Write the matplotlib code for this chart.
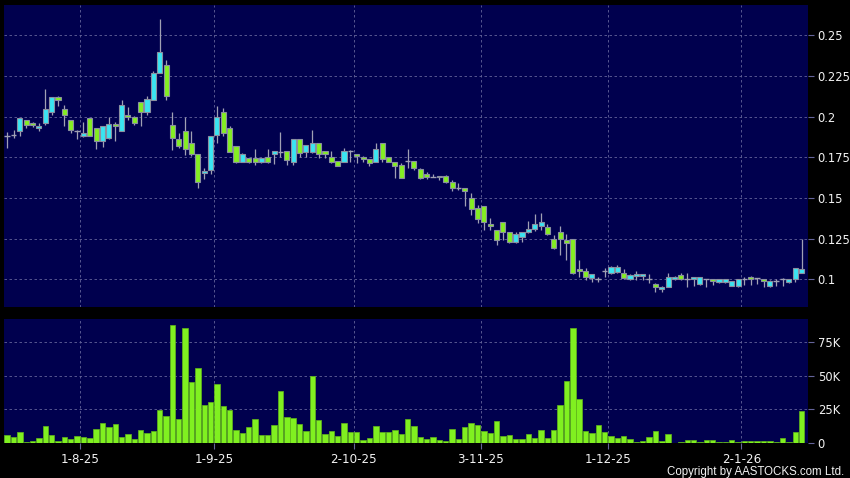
import matplotlib
matplotlib.use("Agg")
import matplotlib.pyplot as plt
import numpy as np

# daily OHLC, 16-7-25 .. 15-1-26 (one trading day per entry)
opens = [0.1884, 0.1888, 0.1910, 0.1978, 0.1960, 0.1931, 0.1961, 0.2029, 0.2120, 0.2047,
         0.1982, 0.1914, 0.1884, 0.1992, 0.1930, 0.1849, 0.1869, 0.1957, 0.1914, 0.2012,
         0.1998, 0.2088, 0.2029, 0.2104, 0.2267, 0.2316, 0.1951, 0.1863, 0.1914, 0.1835,
         0.1773, 0.1651, 0.1672, 0.1890, 0.2031, 0.1931, 0.1817, 0.1723, 0.1748, 0.1748,
         0.1723, 0.1754, 0.1769, 0.1785, 0.1790, 0.1719, 0.1863, 0.1781, 0.1781, 0.1837,
         0.1790, 0.1750, 0.1727, 0.1723, 0.1788, 0.1771, 0.1750, 0.1737, 0.1723, 0.1837,
         0.1754, 0.1719, 0.1700, 0.1728, 0.1728, 0.1677, 0.1648, 0.1632, 0.1628, 0.1638,
         0.1597, 0.1564, 0.1564, 0.1499, 0.1438, 0.1448, 0.1340, 0.1305, 0.1352, 0.1291,
         0.1230, 0.1260, 0.1291, 0.1309, 0.1326, 0.1322, 0.1250, 0.1292, 0.1241, 0.1246,
         0.1062, 0.1052, 0.1006, 0.1002, 0.1052, 0.1037, 0.1048, 0.1037, 0.1000, 0.1019,
         0.1019, 0.1002, 0.0969, 0.0938, 0.0954, 0.1000, 0.1029, 0.1002, 0.1000, 0.0969,
         0.1002, 0.1000, 0.0981, 0.0981, 0.0958, 0.0958, 0.1002, 0.1017, 0.1006, 0.1000,
         0.0958, 0.0988, 0.1000, 0.0981, 0.1000, 0.1037]
highs = [0.1904, 0.1920, 0.1992, 0.1978, 0.1966, 0.1961, 0.2171, 0.2120, 0.2124, 0.2070,
         0.1982, 0.1920, 0.1967, 0.1992, 0.1930, 0.1940, 0.2000, 0.1965, 0.2104, 0.2059,
         0.2002, 0.2088, 0.2124, 0.2282, 0.2600, 0.2349, 0.2029, 0.1900, 0.2000, 0.1914,
         0.1773, 0.1686, 0.1884, 0.2063, 0.2050, 0.1942, 0.1817, 0.1775, 0.1748, 0.1802,
         0.1748, 0.1802, 0.1790, 0.1904, 0.1790, 0.1863, 0.1863, 0.1823, 0.1915, 0.1837,
         0.1790, 0.1790, 0.1727, 0.1806, 0.1796, 0.1771, 0.1760, 0.1737, 0.1838, 0.1837,
         0.1754, 0.1723, 0.1713, 0.1801, 0.1728, 0.1687, 0.1658, 0.1648, 0.1638, 0.1642,
         0.1611, 0.1590, 0.1564, 0.1530, 0.1458, 0.1452, 0.1380, 0.1305, 0.1352, 0.1291,
         0.1291, 0.1291, 0.1360, 0.1401, 0.1407, 0.1340, 0.1275, 0.1326, 0.1277, 0.1246,
         0.1121, 0.1069, 0.1033, 0.1017, 0.1069, 0.1083, 0.1090, 0.1065, 0.1033, 0.1052,
         0.1033, 0.1033, 0.0975, 0.0958, 0.1037, 0.1021, 0.1037, 0.1037, 0.1017, 0.1017,
         0.1002, 0.1000, 0.1000, 0.1000, 0.0990, 0.1000, 0.1012, 0.1021, 0.1010, 0.1000,
         0.0996, 0.1000, 0.1011, 0.1000, 0.1069, 0.1250]
lows = [0.1808, 0.1870, 0.1880, 0.1930, 0.1935, 0.1910, 0.1951, 0.2012, 0.2067, 0.1945,
        0.1900, 0.1863, 0.1876, 0.1880, 0.1802, 0.1812, 0.1860, 0.1849, 0.1910, 0.1978,
        0.1951, 0.1945, 0.2012, 0.2104, 0.2267, 0.2104, 0.1798, 0.1808, 0.1767, 0.1761,
        0.1563, 0.1614, 0.1645, 0.1839, 0.1880, 0.1785, 0.1713, 0.1719, 0.1713, 0.1700,
        0.1715, 0.1717, 0.1706, 0.1750, 0.1702, 0.1700, 0.1750, 0.1750, 0.1779, 0.1744,
        0.1748, 0.1717, 0.1696, 0.1719, 0.1723, 0.1717, 0.1723, 0.1698, 0.1723, 0.1723,
        0.1719, 0.1623, 0.1623, 0.1685, 0.1670, 0.1615, 0.1615, 0.1628, 0.1612, 0.1595,
        0.1546, 0.1550, 0.1448, 0.1397, 0.1346, 0.1305, 0.1305, 0.1210, 0.1244, 0.1224,
        0.1224, 0.1230, 0.1285, 0.1295, 0.1305, 0.1275, 0.1187, 0.1152, 0.1120, 0.1035,
        0.1017, 0.0996, 0.0985, 0.0985, 0.1017, 0.1033, 0.1037, 0.1002, 0.0996, 0.0996,
        0.0996, 0.0975, 0.0921, 0.0923, 0.0950, 0.0996, 0.0996, 0.0950, 0.0958, 0.0965,
        0.0950, 0.0965, 0.0979, 0.0979, 0.0958, 0.0950, 0.0965, 0.0965, 0.0971, 0.0950,
        0.0950, 0.0958, 0.0958, 0.0979, 0.0985, 0.1037]
closes = [0.1884, 0.1888, 0.1992, 0.1947, 0.1947, 0.1945, 0.2047, 0.2120, 0.2104, 0.2008,
          0.1920, 0.1914, 0.1900, 0.1884, 0.1849, 0.1940, 0.1957, 0.1945, 0.2073, 0.2000,
          0.1961, 0.2029, 0.2108, 0.2267, 0.2396, 0.2124, 0.1869, 0.1822, 0.1802, 0.1773,
          0.1598, 0.1663, 0.1884, 0.1998, 0.1900, 0.1785, 0.1719, 0.1769, 0.1719, 0.1723,
          0.1748, 0.1723, 0.1790, 0.1785, 0.1733, 0.1863, 0.1779, 0.1823, 0.1837, 0.1769,
          0.1769, 0.1723, 0.1698, 0.1790, 0.1788, 0.1758, 0.1738, 0.1717, 0.1800, 0.1740,
          0.1723, 0.1698, 0.1625, 0.1728, 0.1687, 0.1621, 0.1628, 0.1632, 0.1638, 0.1597,
          0.1560, 0.1564, 0.1546, 0.1432, 0.1370, 0.1352, 0.1326, 0.1244, 0.1291, 0.1230,
          0.1279, 0.1291, 0.1311, 0.1340, 0.1352, 0.1279, 0.1193, 0.1245, 0.1225, 0.1038,
          0.1050, 0.1017, 0.1033, 0.1002, 0.1052, 0.1079, 0.1079, 0.1006, 0.1027, 0.1033,
          0.1033, 0.1002, 0.0954, 0.0954, 0.1017, 0.1017, 0.1000, 0.1002, 0.1017, 0.1017,
          0.1002, 0.0988, 0.1000, 0.1000, 0.0990, 0.1000, 0.1002, 0.1004, 0.1006, 0.0988,
          0.0988, 0.0988, 0.1000, 0.1000, 0.1069, 0.1062]
# volume in thousands of shares
volumes = [6.2, 4.2, 7.9, 1.0, 1.5, 3.5, 12.6, 6.2, 1.2, 4.5,
           3.2, 5.4, 4.5, 4.0, 10.6, 14.6, 12.1, 14.1, 4.7, 6.7,
           3.2, 9.4, 7.2, 9.2, 24.5, 19.8, 87.6, 17.6, 85.9, 45.3,
           55.9, 28.2, 30.7, 44.3, 27.5, 24.8, 9.9, 7.7, 11.9, 18.1,
           6.2, 6.2, 13.6, 38.6, 19.1, 18.6, 14.1, 8.7, 50.0, 16.8,
           6.9, 8.7, 5.2, 15.1, 8.2, 8.4, 2.0, 4.0, 12.9, 8.2,
           8.2, 9.9, 6.4, 18.1, 12.4, 4.2, 3.2, 4.7, 2.2, 1.5,
           10.6, 3.2, 11.6, 14.9, 13.1, 9.2, 7.4, 16.3, 5.0, 5.9,
           2.7, 3.2, 6.7, 3.5, 9.7, 4.0, 9.4, 28.2, 46.3, 85.6,
           32.9, 8.7, 7.4, 13.1, 8.4, 5.0, 4.0, 5.2, 2.7, 0.7,
           1.7, 4.7, 8.7, 1.7, 6.7, 0.2, 0.5, 2.2, 2.2, 1.0,
           2.5, 2.5, 0.7, 0.7, 2.5, 0.5, 1.5, 1.5, 1.7, 1.5,
           1.5, 0.5, 4.0, 0.7, 8.2, 23.8]

# index of first trading day of each month and its label
month_start = [12, 33, 55, 75, 95, 116]
month_labels = ["1-8-25", "1-9-25", "2-10-25", "3-11-25", "1-12-25", "2-1-26"]
price_ticks = [0.1, 0.125, 0.15, 0.175, 0.2, 0.225, 0.25]
price_labels = ["0.1", "0.125", "0.15", "0.175", "0.2", "0.225", "0.25"]
vol_ticks = [0, 25, 50, 75]
vol_labels = ["0", "25K", "50K", "75K"]

BG = "#00004e"
UP = "#3ae4f2"
DOWN = "#84ee22"
EDGE = "#8a8fa0"
GRID = "#64649a"
TXT = "#f2f2f2"

o = np.array(opens); h = np.array(highs); l = np.array(lows); c = np.array(closes)
x = np.arange(len(o))

fig = plt.figure(figsize=(8.5, 4.78), dpi=100, facecolor="black")
ax = fig.add_axes([4/850, 1-306.7/478, 804/850, 301.7/478])
axv = fig.add_axes([4/850, 1-443/478, 804/850, 124/478], sharex=ax)

for a in (ax, axv):
    a.set_facecolor(BG)
    for s in a.spines.values():
        s.set_visible(False)
    a.yaxis.tick_right()
    a.tick_params(axis="y", colors=GRID, labelcolor=TXT, labelsize=8.3, length=4, pad=3)
    a.grid(True, axis="y", color=GRID, linestyle=(0, (3, 3)), linewidth=0.6)
    for m in month_start:
        a.axvline(m - 0.5, color=GRID, linestyle=(0, (3, 3)), linewidth=0.6, zorder=0.5)
    a.set_axisbelow(True)

# candles
ax.vlines(x, l, h, color="#a0a0b4", linewidth=0.9, zorder=2)
up = c > o
dn = c < o
dj = c == o
ax.bar(x[up], (c - o)[up], bottom=o[up], width=0.8, color=UP, edgecolor=EDGE, linewidth=0.8, zorder=3)
ax.bar(x[dn], (o - c)[dn], bottom=c[dn], width=0.8, color=DOWN, edgecolor=EDGE, linewidth=0.8, zorder=3)
ax.hlines(o[dj], x[dj] - 0.45, x[dj] + 0.45, color="#a0a0b4", linewidth=1.0, zorder=3)

ax.set_xlim(-0.5, 126)
ax.set_ylim(0.0832, 0.2686)
ax.set_yticks(price_ticks)
ax.set_yticklabels(price_labels)
ax.tick_params(axis="x", bottom=False, labelbottom=False)

# volume
axv.bar(x, volumes, width=0.85, color="#80f020", edgecolor="#62b818", linewidth=0.5, zorder=3)
axv.set_ylim(0, 92.4)
axv.set_yticks(vol_ticks)
axv.set_yticklabels(vol_labels)
axv.set_xticks([m - 0.5 for m in month_start])
axv.set_xticklabels(month_labels)
axv.tick_params(axis="x", colors=GRID, labelcolor=TXT, labelsize=8.6, length=4, pad=3)

fig.text(844/850, 1-471.7/478, "Copyright by AASTOCKS.com Ltd.", color=TXT,
         fontsize=8.3, ha="right", va="center", family=["Liberation Sans", "DejaVu Sans"])

fig.savefig("out.png", dpi=100, facecolor="black")
